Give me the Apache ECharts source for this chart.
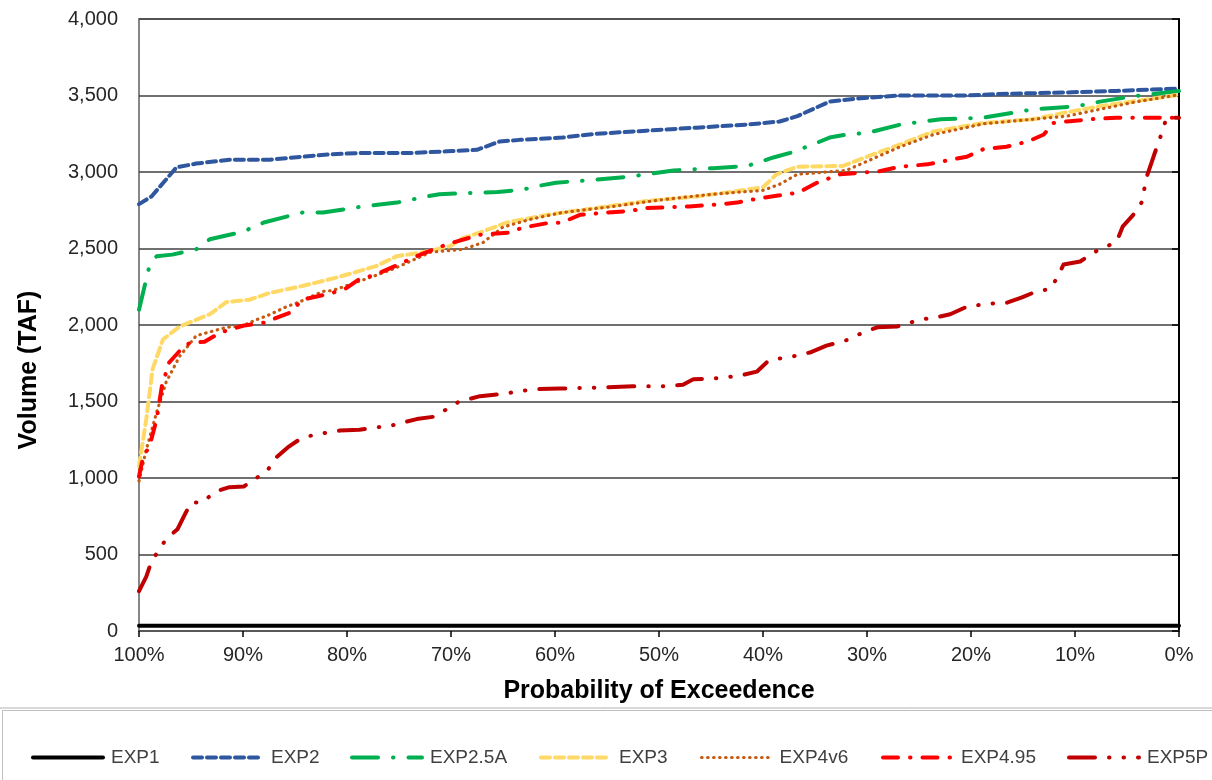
<!DOCTYPE html>
<html>
<head>
<meta charset="utf-8">
<script src="https://cdn.jsdelivr.net/npm/echarts@6/dist/echarts.min.js"></script>
<style>
html,body{margin:0;padding:0;background:#fff;}
#chart{width:1212px;height:780px;}
</style>
</head>
<body>
<div id="chart"></div>
<script>
// Probability of exceedence (%) and volume (TAF) pairs
var xTicks = [0,10,20,30,40,50,60,70,80,90,100];
var yTicks = [0,500,1000,1500,2000,2500,3000,3500,4000];
var seriesNames = ['EXP1','EXP2','EXP2.5A','EXP3','EXP4v6','EXP4.95','EXP5P'];

var exp1 = [[100,35],[0,35]];

var exp2 = [[100,2790],[98.8,2840],[96.4,3030],[94.5,3055],[91.3,3080],[87.4,3080],[84.3,3100],[81.7,3115],[78.5,3125],[73.7,3125],[70.4,3135],[67.5,3145],[65.3,3200],[63.4,3210],[59.3,3225],[56,3250],[51.2,3270],[46.4,3290],[41.5,3310],[38.4,3330],[36.7,3365],[33.6,3460],[31,3480],[26.8,3500],[20.4,3500],[17.2,3510],[10.8,3520],[6,3530],[0,3545]];

var exp25a = [[100,2100],[99,2385],[98.3,2450],[96.8,2460],[94.5,2495],[93.2,2560],[90,2610],[88,2670],[84.3,2735],[82.3,2735],[78.5,2775],[75.2,2800],[72.7,2835],[71.1,2855],[67.2,2865],[65.5,2870],[63.1,2885],[61.5,2910],[59.9,2930],[56,2950],[52.8,2970],[48.6,3010],[44.8,3025],[41.5,3040],[39,3095],[37.4,3125],[35.2,3180],[33.6,3225],[32,3245],[30,3255],[26.8,3310],[22.9,3345],[18.8,3355],[14,3410],[9.8,3430],[7.6,3460],[4.4,3495],[0,3530]];

var exp3 = [[100,1075],[99.3,1385],[98.7,1710],[97.7,1905],[96.1,1990],[93.2,2070],[91.6,2150],[89.4,2165],[87.4,2210],[84.3,2255],[81,2310],[77.2,2385],[75.2,2450],[72.7,2475],[70.1,2515],[68.8,2570],[67.2,2605],[64.6,2670],[60.8,2720],[56,2765],[51.2,2810],[46.4,2840],[41.5,2885],[40,2900],[38.7,2985],[36.7,3035],[32.3,3040],[30,3100],[26.8,3180],[23.6,3265],[18.8,3320],[14,3345],[10.8,3390],[7.6,3430],[0,3505]];

var exp4v6 = [[100,980],[99.3,1185],[98.3,1430],[97.4,1625],[96.1,1795],[94.5,1930],[91.6,1985],[90,1995],[88.7,2035],[87.7,2060],[85.8,2120],[84.6,2150],[82.3,2220],[81.4,2225],[77.8,2310],[75.6,2365],[74.6,2395],[72,2475],[68.8,2495],[66.9,2540],[65,2640],[62.4,2690],[59.3,2735],[54.4,2775],[49.6,2820],[44.8,2855],[40,2880],[38.4,2920],[36.7,2985],[32,3010],[30,3070],[26.8,3165],[23.6,3245],[18.8,3315],[14,3345],[10.8,3365],[7.6,3410],[4.4,3455],[0,3505]];

var exp495 = [[100,1010],[99.6,1140],[99,1205],[98.3,1385],[97.8,1600],[97.1,1755],[96.1,1830],[95.1,1885],[93.7,1890],[92.2,1950],[90,1995],[88,2015],[85.5,2080],[84.3,2165],[81.4,2210],[80.1,2240],[78.8,2300],[77.2,2330],[75.4,2385],[73.3,2450],[71.1,2510],[69.5,2545],[67.2,2590],[64.3,2605],[63.2,2635],[60.8,2665],[59.3,2670],[57.6,2720],[55,2735],[52.8,2745],[51.2,2765],[47.1,2775],[44.8,2785],[42.5,2800],[40.6,2825],[38.7,2845],[36.6,2865],[34.8,2930],[32.6,2985],[30.7,2995],[28.8,3005],[26.8,3035],[24.2,3050],[22.7,3070],[20.4,3100],[18.8,3150],[16.6,3165],[14.5,3200],[13,3245],[12.1,3320],[10.8,3330],[8.5,3345],[6,3355],[0,3355]];

var exp5p = [[100,260],[99.3,355],[98.8,455],[97.4,600],[96.3,665],[95.6,760],[95,840],[93.9,840],[92.7,910],[91.3,940],[89.9,945],[88.6,1005],[87.7,1045],[86.8,1135],[85.7,1200],[84.4,1260],[83,1285],[80.7,1310],[78.8,1315],[77.3,1330],[75.9,1340],[73.3,1385],[71.7,1400],[70.4,1450],[69.2,1500],[67.2,1535],[65,1550],[63.6,1565],[62.1,1580],[59.5,1585],[56.3,1590],[52.5,1600],[49.3,1600],[47.7,1610],[46.7,1645],[43.8,1655],[42.2,1670],[40.6,1695],[39.5,1765],[38.5,1780],[37.1,1795],[35.5,1820],[33.9,1865],[32,1900],[30.4,1950],[29,1985],[27.1,1990],[24.9,2035],[23.3,2050],[22,2070],[20.4,2120],[18.2,2140],[16.6,2145],[15.1,2180],[13.7,2220],[12.4,2235],[11.7,2310],[11.1,2395],[9.5,2415],[8.2,2475],[6.9,2515],[6,2545],[5.4,2645],[4.4,2720],[3.6,2800],[3.1,2970],[2.6,3070],[2.1,3170],[1.6,3265],[1.2,3355],[0,3355]];

var seriesData = [exp1, exp2, exp25a, exp3, exp4v6, exp495, exp5p];

var FONT = "'Liberation Sans', Arial, sans-serif";
var styles = [
  {color:'#000000', width:4, type:'solid'},
  {color:'#2F57A0', width:4, type:[9,5]},
  {color:'#00B050', width:4, type:[26,15,0.5,15]},
  {color:'#FFD966', width:4, type:[9,5]},
  {color:'#C55A11', width:3.2, type:[0.5,5.5]},
  {color:'#FF0000', width:4, type:[15,12,0.5,12]},
  {color:'#C00000', width:4, type:[26,14,0.5,14,0.5,14]}
];
var legendLeft = [31,191,350,539,700,881,1067];

var series = seriesNames.map(function(n,i){
  return {
    name:n, type:'line', data:seriesData[i], showSymbol:false, symbol:'none',
    animation:false, z: 2+i,
    lineStyle:{color:styles[i].color, width:styles[i].width, type:styles[i].type, cap:'round', join:'round'},
    itemStyle:{color:styles[i].color}
  };
});

var legends = seriesNames.map(function(n,i){
  return {
    data:[n], left:legendLeft[i], top:748, padding:0, itemWidth:70, itemHeight:14,
    itemStyle:{opacity:0},
    lineStyle:{width:styles[i].width},
    textStyle:{fontFamily:FONT, fontSize:19, color:'#404040', padding:[0,0,0,3]}
  };
});

var chart = echarts.init(document.getElementById('chart'), null, {renderer:'canvas'});
chart.setOption({
  backgroundColor:'#ffffff',
  animation:false,
  textStyle:{fontFamily:FONT},
  grid:{left:139, right:33, top:19, bottom:149, show:true, borderColor:'#868686', borderWidth:2, backgroundColor:'rgba(0,0,0,0)'},
  legend: legends,
  xAxis:{
    type:'value', min:0, max:100, interval:10, inverse:true,
    name:'Probability of Exceedence', nameLocation:'middle', nameGap:48,
    nameTextStyle:{fontFamily:FONT, fontSize:25, fontWeight:'bold', color:'#000'},
    axisLine:{show:true, lineStyle:{color:'#595959', width:2}},
    axisTick:{show:true, inside:false, length:6, lineStyle:{color:'#000', width:1.5}},
    axisLabel:{fontFamily:FONT, fontSize:20, color:'#262626', margin:14, formatter:function(v){return v+'%';}},
    splitLine:{show:false}
  },
  yAxis:{
    type:'value', min:0, max:4000, interval:500,
    axisLine:{show:true, lineStyle:{color:'#000', width:2}},
    axisTick:{show:true, inside:false, length:7, lineStyle:{color:'#000', width:1.5}},
    axisLabel:{fontFamily:FONT, fontSize:20, color:'#262626', margin:21, formatter:function(v){return v.toLocaleString('en-US');}},
    splitLine:{show:true, lineStyle:{color:'#404040', width:1.5}}
  },
  graphic:[
    {type:'text', x:29, y:370, rotation:Math.PI/2, style:{text:'Volume (TAF)', font:'bold 25px '+FONT, fill:'#000', textAlign:'center', textVerticalAlign:'middle'}},
    {type:'line', shape:{x1:0, y1:708, x2:1212, y2:708}, style:{stroke:'#D9D9D9', lineWidth:2}},
    {type:'rect', shape:{x:2.5, y:710.5, width:1240, height:120}, style:{fill:'none', stroke:'#BFBFBF', lineWidth:1}}
  ],
  series: series
});
</script>
</body>
</html>
